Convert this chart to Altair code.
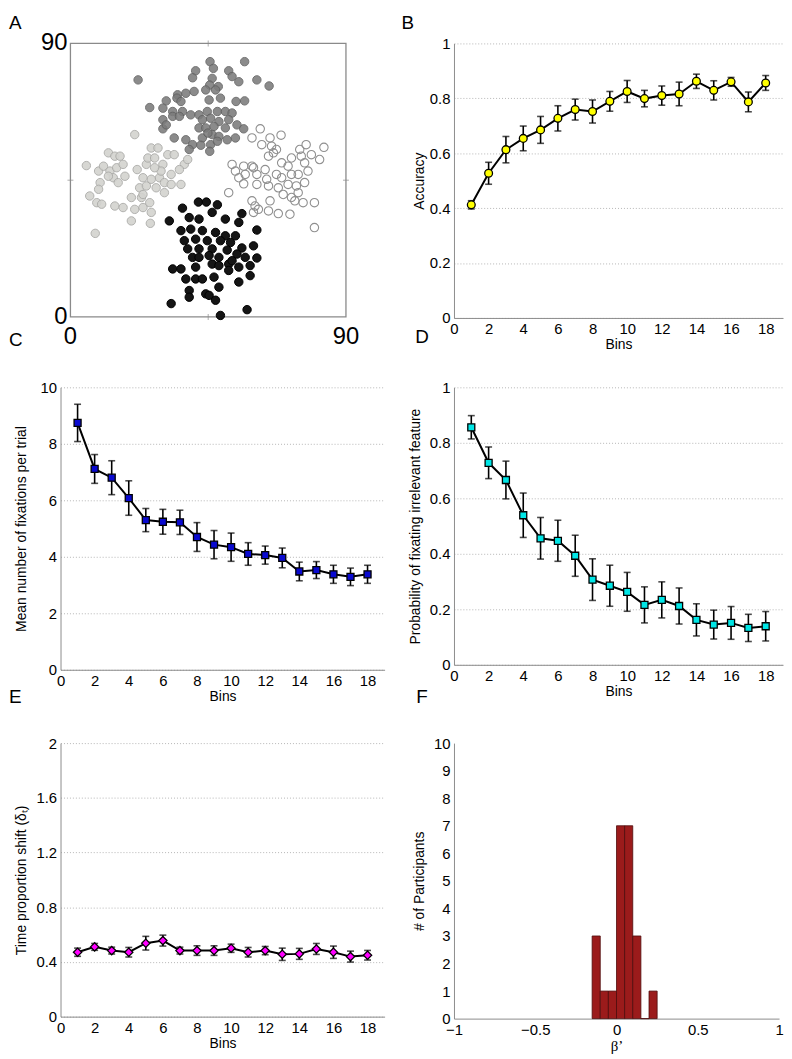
import altair as alt
import pandas as pd

FONT = "Liberation Sans"

# ---------------- Panel A : four clusters (x, y in 0..90) ----------------
cluster_dark = [(45.6,84.0),(56.9,84.0),(40.9,81.0),(46.7,81.8),(51.7,81.0),(22.1,78.0),(39.9,78.7),
    (52.8,79.1),(55.0,77.4),(60.9,78.0),(64.9,76.0),(46.3,78.5),(45.5,76.3),(48.3,75.8),(35.0,73.1),
    (37.7,73.6),(40.4,74.2),(44.2,74.7),(47.4,74.7),(31.3,71.1),(34.8,72.0),(36.1,70.9),(45.3,71.4),
    (49.0,72.0),(54.1,70.9),(56.9,71.1),(25.9,68.9),(30.2,68.7),(33.4,67.6),(36.6,67.6),(39.3,66.5),
    (42.0,66.5),(44.7,67.6),(48.0,67.6),(50.6,67.6),(52.8,67.1),(43.1,64.9),(45.8,65.4),(48.5,64.3),
    (30.2,64.9),(33.4,66.0),(35.6,66.0),(42.0,62.2),(44.2,62.2),(46.9,62.7),(50.6,62.2),(54.4,63.2),
    (56.6,61.9),(30.2,61.9),(33.9,58.9),(37.7,58.3),(43.1,58.9),(46.3,60.0),(48.5,59.4),(51.2,58.3),
    (53.9,58.9),(39.9,56.7),(42.6,56.5),(45.8,56.7),(38.8,55.1),(45.5,54.5),(48.0,57.8),(31.3,63.2),
    (44.9,60.5),(51.7,64.9)]
cluster_light = [(21.0,60.0),(5.2,49.8),(9.2,48.0),(12.4,54.0),(14.5,52.9),(16.2,52.9),(10.8,49.6),
    (12.9,48.0),(15.1,49.1),(17.2,50.2),(14.0,45.8),(15.6,44.2),(17.8,46.3),(9.7,44.2),(6.3,39.8),
    (9.2,42.0),(8.6,37.6),(10.2,37.1),(14.5,36.5),(17.2,36.0),(19.9,39.3),(21.8,48.5),(24.8,50.2),
    (26.4,55.6),(28.6,55.6),(25.3,52.3),(27.5,52.3),(30.2,50.2),(31.8,53.4),(33.9,53.4),(37.2,50.2),
    (35.6,48.5),(32.9,46.9),(29.1,45.8),(26.4,45.3),(23.7,45.8),(22.6,42.5),(24.8,43.1),(28.0,42.5),
    (30.7,44.2),(32.9,43.6),(36.1,43.6),(23.2,39.3),(25.9,37.6),(21.0,35.4),(23.7,36.0),(26.4,34.4),
    (19.9,31.6),(26.1,30.8),(8.1,27.5),(30.7,40.9),(29.6,48.0),(27.5,49.1),(23.7,40.3),(12.4,46.3),
    (38.3,51.8)]
cluster_open = [(62.0,61.9),(59.3,58.9),(65.2,58.9),(68.8,59.8),(62.5,56.7),(65.7,56.2),(67.3,55.1),
    (77.0,56.7),(82.8,55.8),(75.4,52.9),(78.7,53.4),(81.4,51.8),(76.5,50.7),(52.8,50.2),(53.9,48.0),
    (56.6,49.6),(59.3,49.6),(60.9,46.9),(63.6,48.5),(64.7,52.9),(66.3,54.0),(69.0,50.7),(71.1,49.6),
    (64.1,45.3),(67.3,46.9),(69.0,45.8),(72.2,46.9),(74.4,46.9),(55.0,45.8),(57.1,46.9),(59.8,49.1),
    (51.7,40.9),(56.6,43.8),(60.9,43.6),(64.7,43.1),(67.9,42.5),(71.1,43.6),(73.8,43.1),(76.5,44.2),
    (69.5,40.3),(72.2,39.3),(74.4,40.9),(76.0,37.6),(79.7,37.6),(59.3,38.2),(60.3,36.5),(59.8,34.4),
    (61.4,35.4),(64.7,34.9),(67.9,34.0),(71.7,33.8),(79.7,29.4),(65.2,38.2),(74.9,55.1),(72.2,52.3),
    (77.6,48.0),(73.3,38.2)]
cluster_black = [(41.8,37.8),(44.4,37.8),(48.0,36.9),(36.6,35.8),(46.3,34.4),(32.3,31.6),(38.8,32.7),
    (42.0,32.2),(50.6,32.2),(55.0,31.1),(56.0,34.0),(60.9,28.6),(36.1,28.4),(39.3,28.9),(43.1,28.4),
    (47.4,27.8),(50.6,26.7),(53.9,26.7),(37.2,25.1),(40.9,25.6),(44.7,25.1),(49.0,25.1),(52.3,24.5),
    (56.0,22.7),(59.8,23.4),(38.3,22.4),(42.0,22.4),(46.3,22.4),(51.2,22.0),(54.4,20.7),(39.9,19.6),
    (45.3,20.2),(48.5,19.6),(57.1,19.6),(60.9,19.4),(33.4,15.8),(36.1,15.8),(40.9,16.4),(46.3,17.4),
    (51.7,17.4),(55.0,16.4),(58.7,16.9),(37.7,12.5),(40.9,12.5),(43.1,12.5),(46.9,13.1),(51.7,15.3),
    (55.0,11.5),(58.7,13.6),(38.8,8.7),(44.2,7.6),(48.5,9.8),(38.8,6.5),(45.3,7.1),(47.4,5.5),
    (32.9,4.4),(49.0,0.5),(57.7,2.4),(48.5,16.9),(42.0,19.6),(52.8,18.5)]
a_limits = [0, 90]
a_mid = 45

# ---------------- Panels B-E : per-bin means and error bars ----------------
bins = list(range(1, 19))
acc_mean = [0.412,0.527,0.613,0.654,0.685,0.727,0.759,0.752,0.789,0.825,0.799,0.810,0.816,0.862,0.829,0.860,0.787,0.856]
acc_err = [0.015,0.040,0.048,0.045,0.049,0.046,0.038,0.042,0.036,0.040,0.030,0.035,0.043,0.026,0.035,0.016,0.036,0.027]
fix_mean = [8.74,7.11,6.80,6.08,5.30,5.24,5.22,4.70,4.43,4.34,4.10,4.06,3.96,3.48,3.53,3.38,3.29,3.38]
fix_err = [0.66,0.51,0.60,0.61,0.41,0.44,0.43,0.51,0.50,0.50,0.40,0.32,0.35,0.33,0.30,0.32,0.31,0.32]
irr_mean = [0.856,0.728,0.666,0.539,0.456,0.447,0.393,0.307,0.285,0.263,0.216,0.234,0.212,0.162,0.145,0.151,0.133,0.139]
irr_err = [0.042,0.057,0.068,0.080,0.075,0.074,0.074,0.075,0.074,0.070,0.065,0.065,0.065,0.058,0.052,0.059,0.049,0.053]
tps_mean = [0.471,0.510,0.483,0.471,0.537,0.556,0.483,0.483,0.483,0.500,0.471,0.483,0.456,0.459,0.495,0.471,0.439,0.449]
tps_err = [0.030,0.025,0.025,0.035,0.050,0.040,0.025,0.035,0.035,0.030,0.035,0.030,0.045,0.040,0.040,0.045,0.040,0.035]
x_ticks = list(range(0, 19, 2))

# ---------------- Panel F : histogram of beta' ----------------
hist_start = [-0.15, -0.10, -0.05, 0.00, 0.05, 0.10, 0.15, 0.20]
hist_count = [3, 1, 1, 7, 7, 3, 0, 1]
hist_width = 0.05
f_xticks = [-1, -0.5, 0, 0.5, 1]
f_yticks = list(range(0, 11))

AX = dict(domainColor="#8c8c8c", domainWidth=1, ticks=False, labelFont=FONT, labelFontSize=15,
          labelColor="black", labelPadding=4, labelFlush=False, labelOverlap=False,
          titleFont=FONT, titleFontSize=14, titleFontWeight="normal", titleColor="black")


def letter(t, x, y):
    return alt.Chart(pd.DataFrame({"t": [t]})).mark_text(
        align="left", baseline="top", font=FONT, fontSize=19, color="black"
    ).encode(x=alt.value(x), y=alt.value(y), text="t:N")


# ---------- Panel A ----------
WA, HA = 288, 276
sxA = alt.Scale(domain=a_limits, range=[10, WA], nice=False)
syA = alt.Scale(domain=a_limits, nice=False)


def XA(f):
    return alt.X(f + ":Q", scale=sxA, axis=None)


def YA(f):
    return alt.Y(f + ":Q", scale=syA, axis=None)


def cl_df(pts):
    return pd.DataFrame({"x": [p[0] for p in pts], "y": [p[1] for p in pts]})


frameA = alt.Chart(pd.DataFrame({"x0": [a_limits[0]], "x1": [a_limits[1]],
                                 "y0": [a_limits[0]], "y1": [a_limits[1]]})).mark_rect(
    fill="transparent", stroke="#8a8a8a", strokeWidth=1.3
).encode(x=XA("x0"), x2="x1", y=YA("y0"), y2="y1")

tick_v = alt.Chart(pd.DataFrame({"x": [a_mid, a_mid], "y": [a_limits[0], a_limits[1]],
                                 "o": [-3, 3]})).mark_tick(
    orient="vertical", size=6, thickness=1, color="#8a8a8a"
).encode(x=XA("x"), y=YA("y"), yOffset="o:Q")
tick_h = alt.Chart(pd.DataFrame({"x": [a_limits[0], a_limits[1]], "y": [a_mid, a_mid],
                                 "o": [3, -3]})).mark_tick(
    orient="horizontal", size=6, thickness=1, color="#8a8a8a"
).encode(x=XA("x"), y=YA("y"), xOffset="o:Q")

PS = 72
light = alt.Chart(cl_df(cluster_light)).mark_point(
    shape="circle", filled=True, fill="#d3d3cf", stroke="#a9a9a6", strokeWidth=1, size=PS, opacity=0.9
).encode(x=XA("x"), y=YA("y"))
openc = alt.Chart(cl_df(cluster_open)).mark_point(
    shape="circle", filled=False, stroke="#8f8f8f", strokeWidth=1.1, size=PS, opacity=1
).encode(x=XA("x"), y=YA("y"))
dark = alt.Chart(cl_df(cluster_dark)).mark_point(
    shape="circle", filled=True, fill="#7c7c7c", stroke="#5f5f5f", strokeWidth=1, size=PS, opacity=0.88
).encode(x=XA("x"), y=YA("y"))
black = alt.Chart(cl_df(cluster_black)).mark_point(
    shape="circle", filled=True, fill="#151515", stroke="#000000", strokeWidth=1, size=PS, opacity=1
).encode(x=XA("x"), y=YA("y"))

ylabA = alt.Chart(pd.DataFrame({"x": [a_limits[0], a_limits[0]], "y": [a_limits[1], a_limits[0]],
                                "t": ["90", "0"], "d": [3, -3]})).mark_text(
    align="right", baseline="middle", font=FONT, fontSize=24, dx=-3, color="black"
).encode(x=XA("x"), y=YA("y"), text="t:N", yOffset="d:Q")
xlabA = alt.Chart(pd.DataFrame({"x": [a_limits[0], a_limits[1]], "y": [a_limits[0], a_limits[0]],
                                "t": ["0", "90"]})).mark_text(
    align="center", baseline="top", font=FONT, fontSize=24, dy=8, color="black"
).encode(x=XA("x"), y=YA("y"), text="t:N")

panelA = alt.layer(frameA, tick_v, tick_h, light, openc, dark, black, ylabA, xlabA,
                   letter("A", -52, -30), letter("C", -52, 290)).properties(width=WA, height=HA)


# ---------- Panels B-E ----------
def series_panel(mean, err, fill, shape, size, ymax, yticks, ytitle, w, h, title_x, letters):
    df = pd.DataFrame({"bin": bins, "m": mean,
                       "lo": [m - e for m, e in zip(mean, err)],
                       "hi": [m + e for m, e in zip(mean, err)]})
    xs = alt.Scale(domain=[0, 19], nice=False)
    ys = alt.Scale(domain=[0, ymax], nice=False)
    xax = alt.Axis(values=x_ticks, title="Bins", grid=False, titlePadding=1, **AX)
    yax = alt.Axis(values=yticks, format="~f", title=ytitle, grid=True, gridDash=[1, 2],
                   gridColor="#b5b5b5", gridWidth=1, titleX=title_x, titleY=h / 2,
                   titleAngle=-90, titleAlign="center", titleBaseline="bottom", **AX)

    def X(f):
        return alt.X(f + ":Q", scale=xs, axis=xax)

    def Y(f):
        return alt.Y(f + ":Q", scale=ys, axis=yax)

    base = alt.Chart(df)
    line = base.mark_line(color="black", strokeWidth=2).encode(x=X("bin"), y=Y("m"))
    bars = base.mark_rule(color="black", strokeWidth=1.6).encode(x=X("bin"), y=Y("lo"), y2="hi")
    cap_lo = base.mark_tick(orient="horizontal", size=7, thickness=1.6, color="black").encode(
        x=X("bin"), y=Y("lo"))
    cap_hi = base.mark_tick(orient="horizontal", size=7, thickness=1.6, color="black").encode(
        x=X("bin"), y=Y("hi"))
    pts = base.mark_point(shape=shape, filled=True, fill=fill, stroke="black", strokeWidth=1.3,
                          size=size, opacity=1).encode(x=X("bin"), y=Y("m"))
    layers = [line, bars, cap_lo, cap_hi, pts] + [letter(*l) for l in letters]
    return alt.layer(*layers).properties(width=w, height=h)


panelB = series_panel(acc_mean, acc_err, "#ffff00", "circle", 62, 1, [0, 0.2, 0.4, 0.6, 0.8, 1],
                      "Accuracy", 332, 277, -28, [("B", -53, -30), ("D", -39, 287)])
panelC = series_panel(fix_mean, fix_err, "#0a0ad0", "square", 50, 10, [0, 2, 4, 6, 8, 10],
                      "Mean number of fixations per trial", 327, 285, -32, [("E", -52, 304)])
panelD = series_panel(irr_mean, irr_err, "#00e6e6", "square", 50, 1, [0, 0.2, 0.4, 0.6, 0.8, 1],
                      "Probability of fixating irrelevant feature", 332, 280, -32, [("F", -38, 304)])
panelE = series_panel(tps_mean, tps_err, "#ff00ff", "diamond", 70, 2, [0, 0.4, 0.8, 1.2, 1.6, 2],
                      "Time proportion shift (δₜ)", 327, 276, -32, [])

# ---------- Panel F ----------
dfF = pd.DataFrame({"s": hist_start, "e": [s + hist_width for s in hist_start], "c": hist_count})
panelF = alt.Chart(dfF).mark_bar(color="#9b1b1b", stroke="#4d0b0b", strokeWidth=0.8).encode(
    x=alt.X("s:Q", scale=alt.Scale(domain=[-1, 1], nice=False),
            axis=alt.Axis(values=f_xticks, format="~f", title="β’", grid=False, titlePadding=1,
                          **{**AX, "titleFont": "Liberation Serif", "titleFontSize": 15})),
    x2="e:Q",
    y=alt.Y("c:Q", scale=alt.Scale(domain=[0, 10], nice=False),
            axis=alt.Axis(values=f_yticks, format="d", title="# of Participants", grid=False,
                          titleX=-28, titleY=139, titleAngle=-90, titleAlign="center",
                          titleBaseline="bottom", **AX)),
    y2=alt.datum(0),
).properties(width=328, height=278)

chart = alt.concat(panelA, panelB, panelC, panelD, panelE, panelF, columns=2,
                   spacing={"row": 27, "column": 15}, align="each", bounds="full").properties(
    padding=0).configure_view(stroke="transparent")

chart.save("out.html", embed_options={"renderer": "svg", "actions": False})
